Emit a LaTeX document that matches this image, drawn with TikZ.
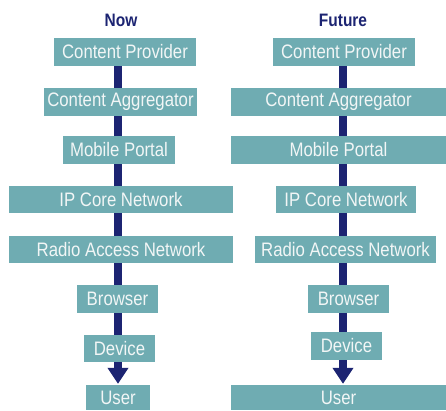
\documentclass[tikz,border=0pt]{standalone}
\usepackage{fontspec}
\setmainfont[FakeStretch=0.86]{Liberation Sans}
\usetikzlibrary{arrows.meta,backgrounds}
\definecolor{boxteal}{HTML}{6FACB2}
\definecolor{flownavy}{HTML}{1C2472}
\definecolor{boxtext}{HTML}{F2F6F6}
\tikzset{
  layerbox/.style={fill=boxteal, draw=none, inner sep=0pt, text=boxtext,
    font=\fontsize{19.5}{21}\selectfont},
  coltitle/.style={text=flownavy, inner sep=0pt,
    font=\fontsize{18}{20}\selectfont\bfseries},
  flow/.style={draw=flownavy, line width=8pt,
    -{Triangle[length=16pt,width=20pt]}, shorten >=1pt},
}
\begin{document}
\begin{tikzpicture}[x=1pt,y=-1pt]
\useasboundingbox (0,0) rectangle (446,410);

% column titles
\node[coltitle] (tnow) at (121,20) {Now};
\node[coltitle] (tfut) at (343,20) {Future};

% current chain
\node[layerbox, minimum width=142, minimum height=28] (lcp)  at (125,52)    {Content Provider};
\node[layerbox, minimum width=153, minimum height=28] (lca)  at (120.5,102) {Content Aggregator};
\node[layerbox, minimum width=112, minimum height=28] (lmp)  at (119,150)   {Mobile Portal};
\node[layerbox, minimum width=224, minimum height=27] (lip)  at (121,199.5) {IP Core Network};
\node[layerbox, minimum width=224, minimum height=27] (lran) at (121,249.5) {Radio Access Network};
\node[layerbox, minimum width=81,  minimum height=28] (lbr)  at (117.5,299) {Browser};
\node[layerbox, minimum width=71,  minimum height=27] (ldev) at (119.5,348.5) {Device};
\node[layerbox, minimum width=64,  minimum height=25] (luser) at (118,397.5) {User};

% future chain
\node[layerbox, minimum width=142, minimum height=28] (rcp)  at (344,52)    {Content Provider};
\node[layerbox, minimum width=215, minimum height=28] (rca)  at (338.5,102) {Content Aggregator};
\node[layerbox, minimum width=215, minimum height=28] (rmp)  at (338.5,150) {Mobile Portal};
\node[layerbox, minimum width=140, minimum height=27] (rip)  at (346,199.5) {IP Core Network};
\node[layerbox, minimum width=181, minimum height=27] (rran) at (345.5,249.5) {Radio Access Network};
\node[layerbox, minimum width=81,  minimum height=28] (rbr)  at (348.5,299) {Browser};
\node[layerbox, minimum width=71,  minimum height=28] (rdev) at (346.5,346) {Device};
\node[layerbox, minimum width=215, minimum height=25] (ruser) at (338.5,397.5) {User};

% flow axes running behind the boxes
\coordinate (laxis) at (118,0);
\coordinate (raxis) at (343,0);
\begin{pgfonlayer}{background}
  \draw[flow] (laxis |- lcp.south) -- (laxis |- luser.north);
  \draw[flow] (raxis |- rcp.south) -- (raxis |- ruser.north);
\end{pgfonlayer}
\end{tikzpicture}
\end{document}
